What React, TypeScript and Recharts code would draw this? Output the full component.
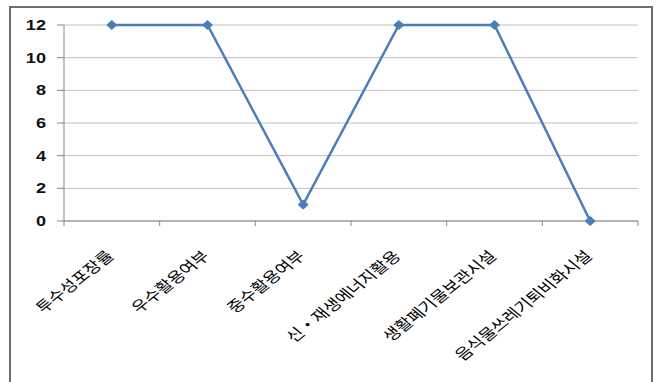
import React from 'react';
import { LineChart, Line, XAxis, YAxis, CartesianGrid } from 'recharts';

const categories = ['투수성포장률', '우수활용여부', '중수활용여부', '신・재생에너지활용', '생활폐기물보관시설', '음식물쓰레기퇴비화시설'];
const values = [12, 12, 1, 12, 12, 0];
const yTicks = [0, 2, 4, 6, 8, 10, 12];

const data = categories.map((name, i) => ({ name, value: values[i] }));

const W = 660;
const H = 382;
const M = { top: 25, right: 22, left: 14, bottom: 21 };
const BAND = (W - M.left - 50 - M.right) / categories.length;
const STRETCH = 1.25;

const XTick = (props: any) => {
  const { x, y, payload, index } = props;
  const half = BAND / 2;
  return (
    <g>
      <line x1={x - half} y1={y - 8} x2={x - half} y2={y - 3} stroke="#868686" strokeWidth={1} />
      {index === categories.length - 1 && (
        <line x1={x + half} y1={y - 8} x2={x + half} y2={y - 3} stroke="#868686" strokeWidth={1} />
      )}
      <text
        x={0}
        y={0}
        textAnchor="end"
        transform={`translate(${x + 3}, ${y + 28}) scale(${STRETCH}, 1) rotate(-45)`}
        fontSize={14.6}
        fontFamily="'Noto Sans CJK KR', sans-serif"
        fill="#000"
      >
        {payload.value}
      </text>
    </g>
  );
};

const YTick = (props: any) => {
  const { x, y, payload } = props;
  return (
    <text
      x={0}
      y={0}
      dy={5}
      textAnchor="end"
      transform={`translate(${x}, ${y}) scale(${STRETCH}, 1)`}
      fontSize={14.5}
      fontWeight="bold"
      fontFamily="'Liberation Sans', Arial, sans-serif"
      fill="#111"
    >
      {payload.value}
    </text>
  );
};

const Diamond = (props: any) => {
  const { cx, cy } = props;
  if (cx == null || cy == null) return null;
  const rx = 5;
  const ry = 4.5;
  return (
    <polygon
      points={`${cx},${cy - ry} ${cx + rx},${cy} ${cx},${cy + ry} ${cx - rx},${cy}`}
      fill="#4a7ebb"
      stroke="#4a7ebb"
    />
  );
};

export default function App() {
  return (
    <div style={{ position: 'absolute', left: 0, top: 0, width: W, height: H, background: '#fff', overflow: 'hidden' }}>
      <div
        style={{
          position: 'absolute',
          left: 9,
          top: 6,
          width: 644,
          height: 400,
          border: '2px solid #6e6e6e',
          boxSizing: 'border-box',
        }}
      />
      <div style={{ position: 'absolute', left: 0, top: 0 }}>
        <LineChart width={W} height={H} data={data} margin={M}>
          <CartesianGrid vertical={false} stroke="#c0c0c0" strokeWidth={1} />
          <XAxis
            dataKey="name"
            interval={0}
            height={140}
            padding={{ left: BAND / 2, right: BAND / 2 }}
            tickLine={false}
            axisLine={{ stroke: '#868686' }}
            tick={<XTick />}
          />
          <YAxis
            domain={[0, 12]}
            ticks={yTicks}
            width={50}
            tickSize={7}
            tickMargin={11}
            axisLine={{ stroke: '#868686' }}
            tickLine={{ stroke: '#868686' }}
            tick={<YTick />}
          />
          <Line
            type="linear"
            dataKey="value"
            stroke="#4a7ebb"
            strokeWidth={2.5}
            dot={<Diamond />}
            activeDot={false}
            isAnimationActive={false}
          />
        </LineChart>
      </div>
    </div>
  );
}
